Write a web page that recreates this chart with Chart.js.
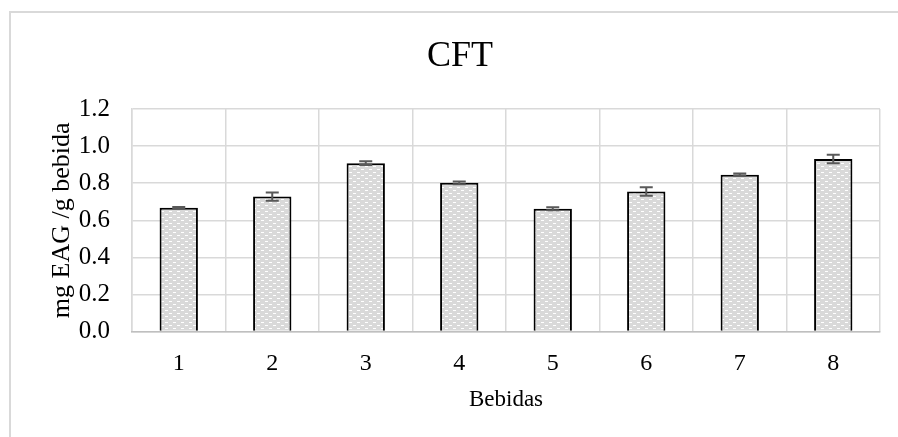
<!DOCTYPE html>
<html>
<head>
<meta charset="utf-8">
<script src="https://cdn.jsdelivr.net/npm/chart.js@4.4.0/dist/chart.umd.min.js"></script>
<style>
    html, body { margin: 0; padding: 0; background: #fff; overflow: hidden; }
    #frame { position: absolute; left: 9px; top: 11px; width: 1000px; height: 1000px; border: 2px solid #d9d9d9; }
    #wrap { position: absolute; left: 0; top: 0; width: 898px; height: 437px; }
</style>
</head>
<body>
<div id="frame"></div>
<div id="wrap"><canvas id="cftChart"></canvas></div>
<script>
// Data
const bebidas = ['1', '2', '3', '4', '5', '6', '7', '8'];
const cftValues = [0.667, 0.728, 0.908, 0.802, 0.662, 0.755, 0.846, 0.930];
const cftErrors = [0.005, 0.022, 0.010, 0.007, 0.008, 0.023, 0.006, 0.023];
const chartTitle = 'CFT';

const serif = 'Liberation Serif, Times New Roman, serif';

// Dotted fill like the Excel pattern
function makePattern() {
    const c = document.createElement('canvas');
    c.width = 8; c.height = 6;
    const p = c.getContext('2d');
    p.fillStyle = '#d9d9d9';
    p.fillRect(0, 0, 8, 6);
    p.fillStyle = '#ffffff';
    p.fillRect(1, 1, 3, 1);
    p.fillRect(5, 4, 3, 1);
    return p.createPattern(c, 'repeat');
}

// Error bars drawn at the bar positions from the y scale
const errorBars = {
    id: 'errorBars',
    afterDatasetsDraw(chart) {
        const ctx = chart.ctx;
        const y = chart.scales.y;
        const meta = chart.getDatasetMeta(0);
        ctx.save();
        ctx.strokeStyle = '#595959';
        ctx.lineWidth = 2;
        meta.data.forEach((bar, i) => {
            const top = y.getPixelForValue(cftValues[i] + cftErrors[i]);
            const bot = y.getPixelForValue(cftValues[i] - cftErrors[i]);
            ctx.beginPath();
            ctx.moveTo(bar.x, top); ctx.lineTo(bar.x, bot);
            ctx.moveTo(bar.x - 6.5, top); ctx.lineTo(bar.x + 6.5, top);
            ctx.moveTo(bar.x - 6.5, bot); ctx.lineTo(bar.x + 6.5, bot);
            ctx.stroke();
        });
        ctx.restore();
    }
};

// Title placed like the Excel one (a bit right of the canvas centre)
const titleText = {
    id: 'titleText',
    afterDraw(chart) {
        const ctx = chart.ctx;
        ctx.save();
        ctx.fillStyle = '#000';
        ctx.font = '36px ' + serif;
        ctx.textAlign = 'center';
        ctx.textBaseline = 'middle';
        ctx.fillText(chartTitle, chart.width / 2 + 11, 57);
        ctx.restore();
    }
};

const ctx = document.getElementById('cftChart').getContext('2d');
new Chart(ctx, {
    type: 'bar',
    data: {
        labels: bebidas,
        datasets: [{
            label: chartTitle,
            data: cftValues,
            backgroundColor: makePattern(),
            borderColor: '#000000',
            borderWidth: 2,
            categoryPercentage: 1,
            barPercentage: 0.41
        }]
    },
    options: {
        responsive: true,
        maintainAspectRatio: false,
        animation: false,
        layout: { padding: { left: 44, right: 18, top: 109, bottom: 23 } },
        scales: {
            y: {
                min: 0,
                max: 1.2,
                afterFit: scale => { scale.width = 88; },
                ticks: {
                    stepSize: 0.2,
                    color: '#000', padding: 22,
                    font: { family: serif, size: 25 },
                    callback: v => Number(v).toFixed(1)
                },
                grid: { color: '#d9d9d9', lineWidth: 1.5, drawTicks: false },
                border: { color: '#d9d9d9', width: 1.5 },
                title: { display: true, text: 'mg EAG /g bebida', color: '#000', font: { family: serif, size: 26 }, padding: 3 }
            },
            x: {
                ticks: { color: '#000', padding: 18, font: { family: serif, size: 24 } },
                grid: { color: '#d9d9d9', lineWidth: 1.5, drawTicks: false },
                border: { color: '#bfbfbf', width: 1.5 },
                title: { display: true, text: 'Bebidas', color: '#000', font: { family: serif, size: 23 }, padding: { top: -10, bottom: 0 } }
            }
        },
        plugins: {
            legend: { display: false },
            tooltip: { enabled: false },
            title: { display: false }
        }
    },
    plugins: [errorBars, titleText]
});
</script>
</body>
</html>
